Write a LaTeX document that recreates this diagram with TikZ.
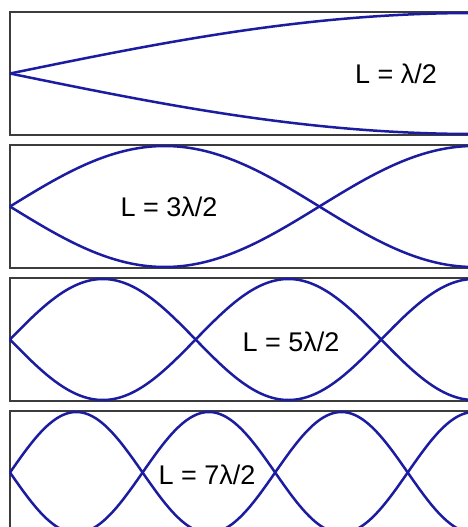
\documentclass[tikz,border=0pt]{standalone}
\usepackage{fontspec}
\setmainfont{Liberation Sans}
\definecolor{wave}{RGB}{28,28,160}
\definecolor{frame}{RGB}{60,60,60}
\begin{document}
\begin{tikzpicture}[x=1pt,y=-1pt,
  panel/.style={draw=frame,line width=1.2pt},
  wavec/.style={draw=wave,line width=2.5pt,line join=round},
  lab/.style={font=\fontsize{27}{32}\selectfont,inner sep=0pt,anchor=center}]
\useasboundingbox (0,0) rectangle (468,527);
\clip (0,0) rectangle (468,527);
\fill[white] (0,0) rectangle (468,527);
\foreach \t/\n in {12/1,145/3,278/5,411/7}{
  \draw[panel] (10,\t) rectangle (490,\t+123);
  \pgfmathsetmacro{\c}{\t+61.5}
  \draw[wavec] plot[domain=10:470,samples=300,smooth] (\x,{\c-60.5*sin(\n*90*((\x-10)/464))});
  \draw[wavec] plot[domain=10:470,samples=300,smooth] (\x,{\c+60.5*sin(\n*90*((\x-10)/464))});
}
\node[lab] (l1) at (396,74) {L = λ/2};
\node[lab] (l3) at (169,207) {L = 3λ/2};
\node[lab] (l5) at (291,342) {L = 5λ/2};
\node[lab] (l7) at (207,475) {L = 7λ/2};
\end{tikzpicture}
\end{document}
